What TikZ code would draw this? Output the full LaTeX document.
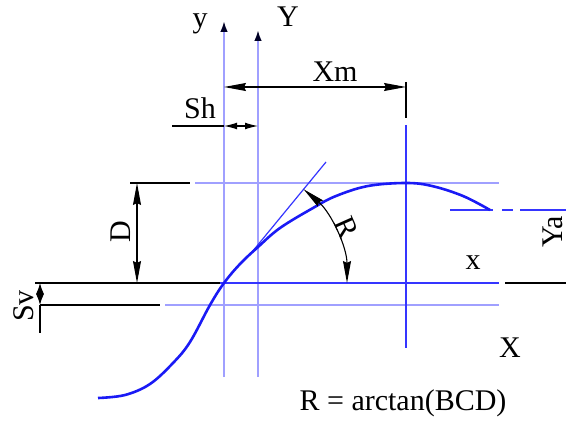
\documentclass[tikz,border=0pt]{standalone}
\usepackage{fontspec}
\setmainfont{Liberation Serif}
\newfontfamily\drawfont{Liberation Serif}
\usetikzlibrary{arrows.meta}
\definecolor{faintblue}{HTML}{A0A0FF}
\definecolor{axisblue}{HTML}{3535FF}
\definecolor{curveblue}{HTML}{1A1AF5}
\tikzset{
  lbl/.style={font=\drawfont\fontsize{15}{18}\selectfont,inner sep=0pt},
  note/.style={font=\drawfont\fontsize{15}{18}\selectfont,inner sep=0pt},
  faint/.style={draw=faintblue,line width=1pt},
  axis/.style={draw=axisblue,line width=0.8pt},
  dim/.style={draw=black,line width=0.55pt},
  dimarrow/.style={dim,{Stealth[length=11pt,width=4pt,inset=1pt]}-{Stealth[length=11pt,width=4pt,inset=1pt]}},
  smallarrow/.style={dim,{Latex[length=6.5pt,width=3.4pt]}-{Latex[length=6.5pt,width=3.4pt]}},
  tip/.style={-{Latex[length=5.5pt,width=3.8pt,color=black!85!blue]}}
}
\begin{document}
\begin{tikzpicture}[x=0.5pt,y=-0.5pt]
\useasboundingbox (0,0) rectangle (566,422);
% reference points
\coordinate (O) at (224,283);
\coordinate (S) at (258,283);
\coordinate (M) at (406,183);
% grid lines
\draw[faint,tip] (224,377) -- (224,21);
\draw[faint,tip] (258,377) -- (258,30);
\draw[faint] (195,183) -- (499,183);
\draw[faint] (165,305) -- (499,305);
\draw[axis] (220,283) -- (499,283);
\draw[axis] (406,125) -- (406,348);
\draw[axis,line width=0.7pt,dash pattern=on 21.5pt off 4.5pt on 5.5pt off 3.5pt on 30pt] (450,210) -- (566,210);
\draw[axis,line width=0.6pt] (252,252) -- (326,162);
% road profile
\draw[curveblue,line width=1.3pt] plot[smooth,tension=0.6] coordinates {
  (98,398) (125,395) (150,384) (173,363) (190,342) (210,305) (224,283)
  (240,264) (258,247) (280,228) (313,208) (336,196) (368,186) (406,183)
  (432,186) (463,196) (490,210)};
% extension lines
\draw[dim] (35,283) -- (220,283);
\draw[dim] (505,283) -- (566,283);
\draw[dim] (40,305) -- (160,305);
\draw[dim] (130,183) -- (190,183);
\draw[dim] (406,82) -- (406,118);
\draw[dim] (172,126) -- (224,126);
\draw[dim] (40,305) -- (40,333);
% dimensions
\draw[dimarrow] (224,87) -- (406,87);
\node[lbl] (xm) at (335,72) {Xm};
\draw[smallarrow] (224,126) -- (258,126);
\node[lbl] (sh) at (200,108) {Sh};
\draw[dimarrow] (137,183) -- (137,283);
\node[lbl,rotate=90,anchor=base] (d) at (130,232) {D};
\draw[dim,line width=0.6pt,{Latex[length=5.5pt,width=4pt]}-{Latex[length=5.5pt,width=4pt]}] (40,283) -- (40,305);
\node[lbl,rotate=90,anchor=base] (sv) at (33,306) {Sv};
\node[lbl,rotate=90,anchor=base] (ya) at (562,232) {Ya};
\draw[dimarrow] ([shift={(-49.7:123)}]O) arc[start angle=-49.7,end angle=0,radius=123];
\node[lbl,rotate=-66] (r) at (347,228) {R};
% axis labels
\node[lbl] (ly) at (200,24) {y};
\node[lbl] (lY) at (288,17) {Y};
\node[lbl] (lx) at (473,263) {x};
\node[lbl] (lX) at (510,348) {X};
\node[note] (eq) at (403,403) {R = arctan(BCD)};
\end{tikzpicture}
\end{document}
